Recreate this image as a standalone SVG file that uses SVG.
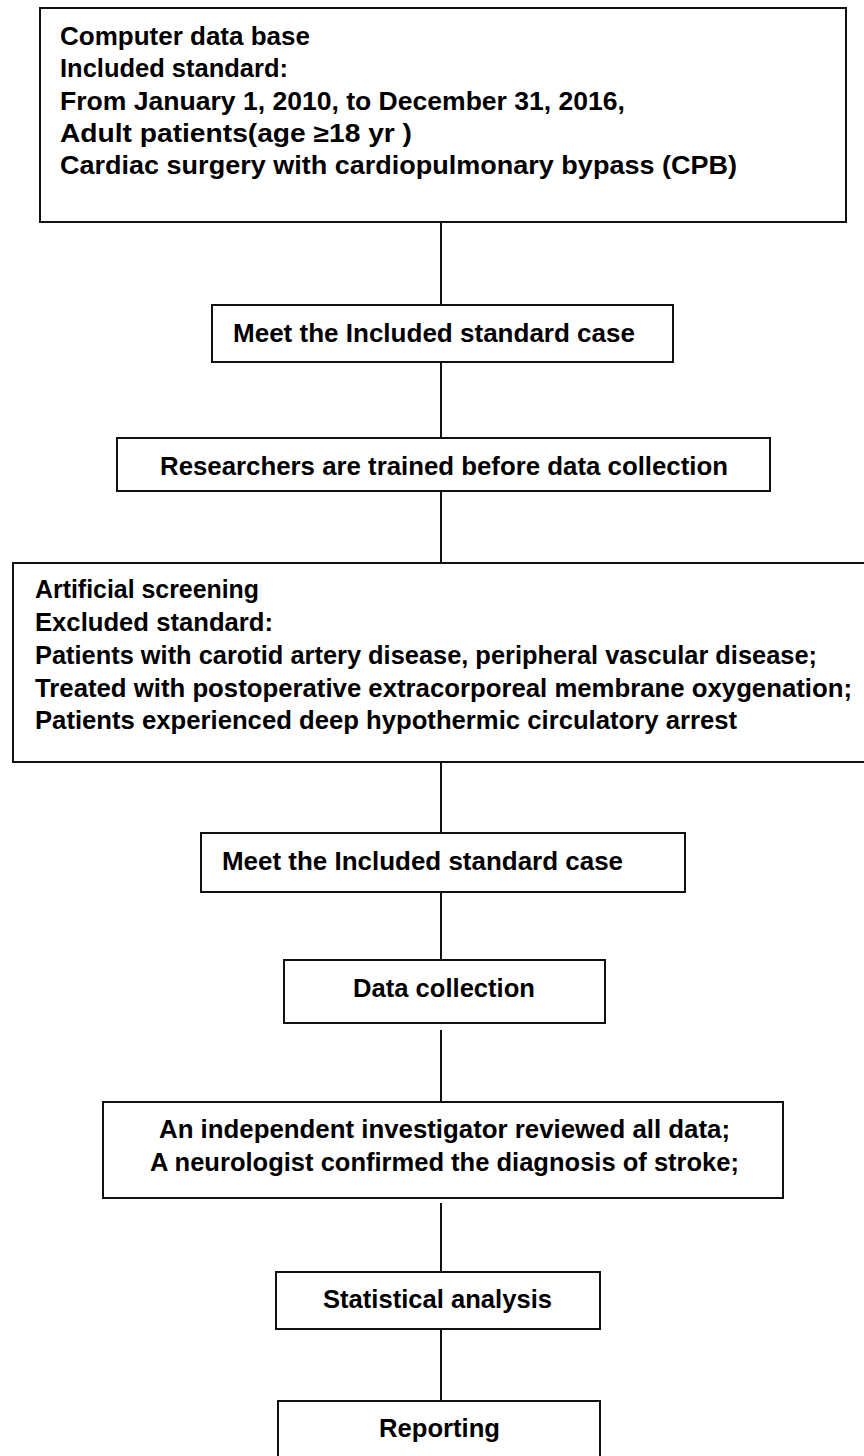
<svg xmlns="http://www.w3.org/2000/svg" width="864" height="1456" viewBox="0 0 864 1456">
<style>
.box{fill:#fff;stroke:#111;stroke-width:2}
.t{font-family:"Liberation Sans",Arial,sans-serif;font-weight:bold;font-size:25px;fill:#000}
.c{stroke:#111;stroke-width:2;fill:none}
</style>
<rect width="864" height="1456" fill="#fff"/>
<g id="connectors">
<line class="c" x1="441" y1="222" x2="441" y2="305"/>
<line class="c" x1="441" y1="362" x2="441" y2="438"/>
<line class="c" x1="441" y1="491" x2="441" y2="563"/>
<line class="c" x1="441" y1="762" x2="441" y2="833"/>
<line class="c" x1="441" y1="892" x2="441" y2="960"/>
<line class="c" x1="441" y1="1030" x2="441" y2="1102"/>
<line class="c" x1="441" y1="1203" x2="441" y2="1272"/>
<line class="c" x1="441" y1="1329" x2="441" y2="1401"/>
</g>
<g id="n1">
<rect class="box" x="40" y="8" width="806" height="214"/>
<text class="t" x="60" y="45" textLength="250" lengthAdjust="spacingAndGlyphs">Computer data base</text>
<text class="t" x="60" y="77" textLength="228" lengthAdjust="spacingAndGlyphs">Included standard:</text>
<text class="t" x="60" y="110" textLength="565" lengthAdjust="spacingAndGlyphs">From January 1, 2010, to December 31, 2016,</text>
<text class="t" x="60" y="142" textLength="352" lengthAdjust="spacingAndGlyphs">Adult patients(age ≥18 yr )</text>
<text class="t" x="60" y="174" textLength="677" lengthAdjust="spacingAndGlyphs">Cardiac surgery with cardiopulmonary bypass (CPB)</text>
</g>
<g id="n2">
<rect class="box" x="212" y="305" width="461" height="57"/>
<text class="t" x="233" y="342" textLength="402" lengthAdjust="spacingAndGlyphs">Meet the Included standard case</text>
</g>
<g id="n3">
<rect class="box" x="117" y="438" width="653" height="53"/>
<text class="t" x="160" y="475" textLength="568" lengthAdjust="spacingAndGlyphs">Researchers are trained before data collection</text>
</g>
<g id="n4">
<rect class="box" x="13" y="563" width="862" height="199"/>
<text class="t" x="35" y="598" textLength="224" lengthAdjust="spacingAndGlyphs">Artificial screening</text>
<text class="t" x="35" y="631" textLength="238" lengthAdjust="spacingAndGlyphs">Excluded standard:</text>
<text class="t" x="35" y="664" textLength="782" lengthAdjust="spacingAndGlyphs">Patients with carotid artery disease, peripheral vascular disease;</text>
<text class="t" x="35" y="697" textLength="817" lengthAdjust="spacingAndGlyphs">Treated with postoperative extracorporeal membrane oxygenation;</text>
<text class="t" x="35" y="729" textLength="702" lengthAdjust="spacingAndGlyphs">Patients experienced deep hypothermic circulatory arrest</text>
</g>
<g id="n5">
<rect class="box" x="201" y="833" width="484" height="59"/>
<text class="t" x="222" y="870" textLength="401" lengthAdjust="spacingAndGlyphs">Meet the Included standard case</text>
</g>
<g id="n6">
<rect class="box" x="284" y="960" width="321" height="63"/>
<text class="t" x="353" y="997" textLength="182" lengthAdjust="spacingAndGlyphs">Data collection</text>
</g>
<g id="n7">
<rect class="box" x="103" y="1102" width="680" height="96"/>
<text class="t" x="159" y="1138" textLength="571" lengthAdjust="spacingAndGlyphs">An independent investigator reviewed all data;</text>
<text class="t" x="150" y="1171" textLength="589" lengthAdjust="spacingAndGlyphs">A neurologist confirmed the diagnosis of stroke;</text>
</g>
<g id="n8">
<rect class="box" x="276" y="1272" width="324" height="57"/>
<text class="t" x="323" y="1308" textLength="229" lengthAdjust="spacingAndGlyphs">Statistical analysis</text>
</g>
<g id="n9">
<rect class="box" x="278" y="1401" width="322" height="70"/>
<text class="t" x="379" y="1437" textLength="121" lengthAdjust="spacingAndGlyphs">Reporting</text>
</g>
</svg>
